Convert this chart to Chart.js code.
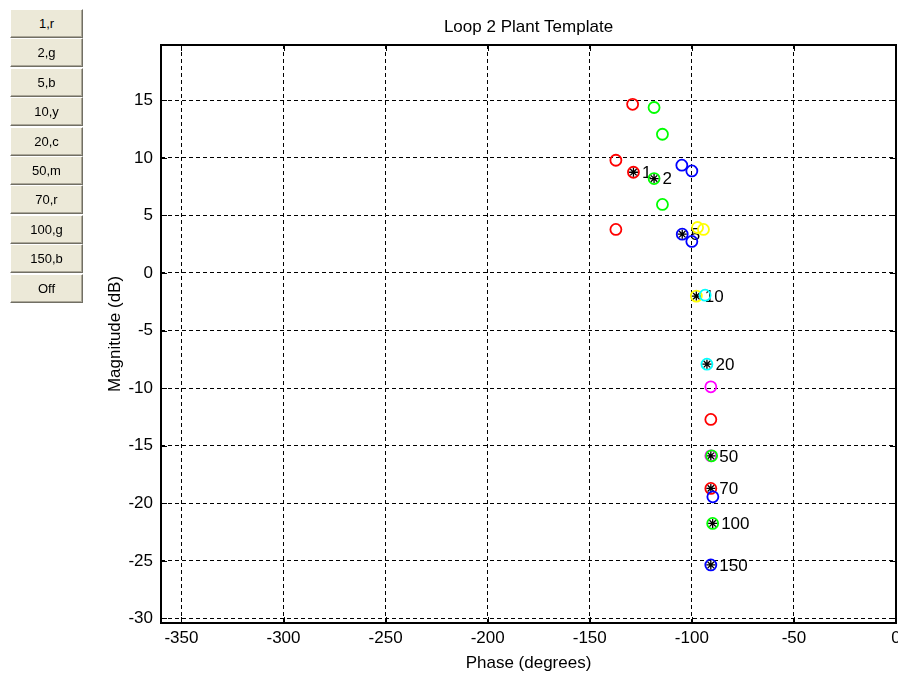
<!DOCTYPE html>
<html>
<head>
<meta charset="utf-8">
<title>Loop 2 Plant Template</title>
<script src="https://cdn.jsdelivr.net/npm/chart.js@4.4.1/dist/chart.umd.min.js"></script>
<style>
  html, body { margin: 0; padding: 0; background: #fff; }
  #wrap { position: relative; width: 898px; height: 675px; overflow: hidden; }
  #plot { position: absolute; left: 0; top: 0; }
  .btn {
    position: absolute; left: 10px; width: 73px; height: 29px;
    box-sizing: border-box; background: #ece9d8;
    border-top: 1px solid #fff; border-left: 1px solid #fff;
    border-right: 1px solid #716f64; border-bottom: 1px solid #716f64;
    box-shadow: inset -1px -1px 0 #aca899;
    font: 13px 'Liberation Sans', Arial, sans-serif; color: #000;
    text-align: center; line-height: 27px;
  }
</style>
</head>
<body>
<div id="wrap">
  <canvas id="plot" width="898" height="675"></canvas>
</div>
<script>
const buttonLabels = ['1,r', '2,g', '5,b', '10,y', '20,c', '50,m', '70,r', '100,g', '150,b', 'Off']

const freqs = [1, 2, 5, 10, 20, 50, 70, 100, 150]
const freqColors = ['#ff0000', '#00ff00', '#0000ff', '#ffff00', '#00ffff', '#ff00ff', '#ff0000', '#00ff00', '#0000ff']

// nominal plant at each frequency (degrees, dB)
const nominalPhase = [-128.6, -118.5, -104.7, -97.8, -92.6, -90.7, -90.7, -89.8, -90.7]
const nominalMag = [8.75, 8.2, 3.37, -2.01, -7.92, -15.88, -18.71, -21.75, -25.36]

// template points for the uncertain plant cases, one list per frequency
const templatePhase = [
  [-129.0, -137.2, -137.2],
  [-118.5, -114.4, -114.4],
  [-104.9, -100.0, -100.0],
  [-97.2, -94.3],
  [-93.5],
  [-90.7],
  [-90.7],
  [-90.3],
  [-89.7]
]
const templateMag = [
  [14.65, 9.79, 3.78],
  [14.37, 12.05, 5.95],
  [9.36, 8.86, 2.74],
  [3.95, 3.78],
  [-1.93],
  [-9.89],
  [-12.72],
  [-15.88],
  [-19.44]
]

const xTicks = [-350, -300, -250, -200, -150, -100, -50, 0]
const yTicks = [-30, -25, -20, -15, -10, -5, 0, 5, 10, 15]
const xRange = [-360, 0]
const yRange = [-30.4, 19.8]

const fontFamily = "'Liberation Sans', Arial, sans-serif"
const tickLen = 6

buttonLabels.forEach((label, i) => {
  let b = document.createElement('div')
  b.className = 'btn'
  b.style.top = (9 + i * 29.4) + 'px'
  b.textContent = label
  document.getElementById('wrap').appendChild(b)
})

function toPoints (xs, ys) {
  return xs.map((v, i) => ({ x: v, y: ys[i] }))
}

// MATLAB plots each frequency in turn, later ones on top
let datasets = []
freqs.forEach((f, i) => {
  datasets.push({
    label: f + ' template',
    data: toPoints(templatePhase[i].concat([nominalPhase[i]]), templateMag[i].concat([nominalMag[i]])),
    pointStyle: 'circle',
    pointRadius: 5.5,
    borderColor: freqColors[i],
    backgroundColor: 'rgba(0,0,0,0)',
    pointBorderWidth: 1.8
  })
  datasets.push({
    label: f + ' nominal',
    data: toPoints([nominalPhase[i]], [nominalMag[i]]),
    pointStyle: 'star',
    pointRadius: 4.5,
    borderColor: '#000',
    backgroundColor: '#000',
    pointBorderWidth: 1.3
  })
})
datasets.reverse()

// box, inward ticks and frequency labels
const axesBox = {
  id: 'axesBox',
  beforeDatasetsDraw (chart) {
    const { ctx, chartArea: a, scales: { x, y } } = chart
    ctx.save()
    ctx.strokeStyle = '#000'
    ctx.lineWidth = 1
    ctx.beginPath()
    xTicks.forEach(v => {
      let px = Math.round(x.getPixelForValue(v)) + 0.5
      ctx.moveTo(px, a.bottom)
      ctx.lineTo(px, a.bottom - tickLen)
      ctx.moveTo(px, a.top)
      ctx.lineTo(px, a.top + tickLen)
    })
    yTicks.forEach(v => {
      let py = Math.round(y.getPixelForValue(v)) + 0.5
      ctx.moveTo(a.left, py)
      ctx.lineTo(a.left + tickLen, py)
      ctx.moveTo(a.right, py)
      ctx.lineTo(a.right - tickLen, py)
    })
    ctx.stroke()
    ctx.lineWidth = 2
    ctx.strokeRect(Math.round(a.left), Math.round(a.top), Math.round(a.right - a.left), Math.round(a.bottom - a.top))

    ctx.fillStyle = '#000'
    ctx.font = '17px ' + fontFamily
    ctx.textAlign = 'left'
    ctx.textBaseline = 'middle'
    freqs.forEach((f, i) => {
      ctx.fillText(String(f), x.getPixelForValue(nominalPhase[i]) + 8.5, y.getPixelForValue(nominalMag[i]) + 1)
    })
    ctx.restore()
  }
}

Chart.defaults.font.family = fontFamily
Chart.defaults.font.size = 17
Chart.defaults.color = '#000'

new Chart(document.getElementById('plot'), {
  type: 'scatter',
  data: { datasets: datasets },
  options: {
    responsive: false,
    animation: false,
    devicePixelRatio: 1,
    layout: { autoPadding: false, padding: { left: 0, top: 0, right: 2, bottom: 0 } },
    plugins: {
      legend: { display: false },
      tooltip: { enabled: false },
      title: {
        display: true,
        text: 'Loop 2 Plant Template',
        fullSize: false,
        font: { size: 17, weight: 'normal' },
        padding: { top: 17, bottom: 7.6 }
      }
    },
    scales: {
      x: {
        type: 'linear',
        min: xRange[0],
        max: xRange[1],
        afterBuildTicks: scale => { scale.ticks = xTicks.map(v => ({ value: v })) },
        afterFit: scale => {
          scale.height = 52
          scale.paddingLeft = 0
          scale.paddingRight = 0
        },
        ticks: { padding: 5, maxRotation: 0, autoSkip: false },
        grid: { color: '#000', lineWidth: 1, drawTicks: false },
        border: { display: false, dash: [4, 3] },
        title: { display: true, text: 'Phase (degrees)', padding: { top: 0, bottom: 1.8 } }
      },
      y: {
        type: 'linear',
        min: yRange[0],
        max: yRange[1],
        afterBuildTicks: scale => { scale.ticks = yTicks.map(v => ({ value: v })) },
        afterFit: scale => {
          scale.width = 161
          scale.paddingTop = 0
          scale.paddingBottom = 0
        },
        ticks: { padding: 8, autoSkip: false },
        grid: { color: '#000', lineWidth: 1, drawTicks: false },
        border: { display: false, dash: [4, 3] },
        title: { display: true, text: 'Magnitude (dB)', padding: { top: 104.8, bottom: 0 } }
      }
    }
  },
  plugins: [axesBox]
})
</script>
</body>
</html>
